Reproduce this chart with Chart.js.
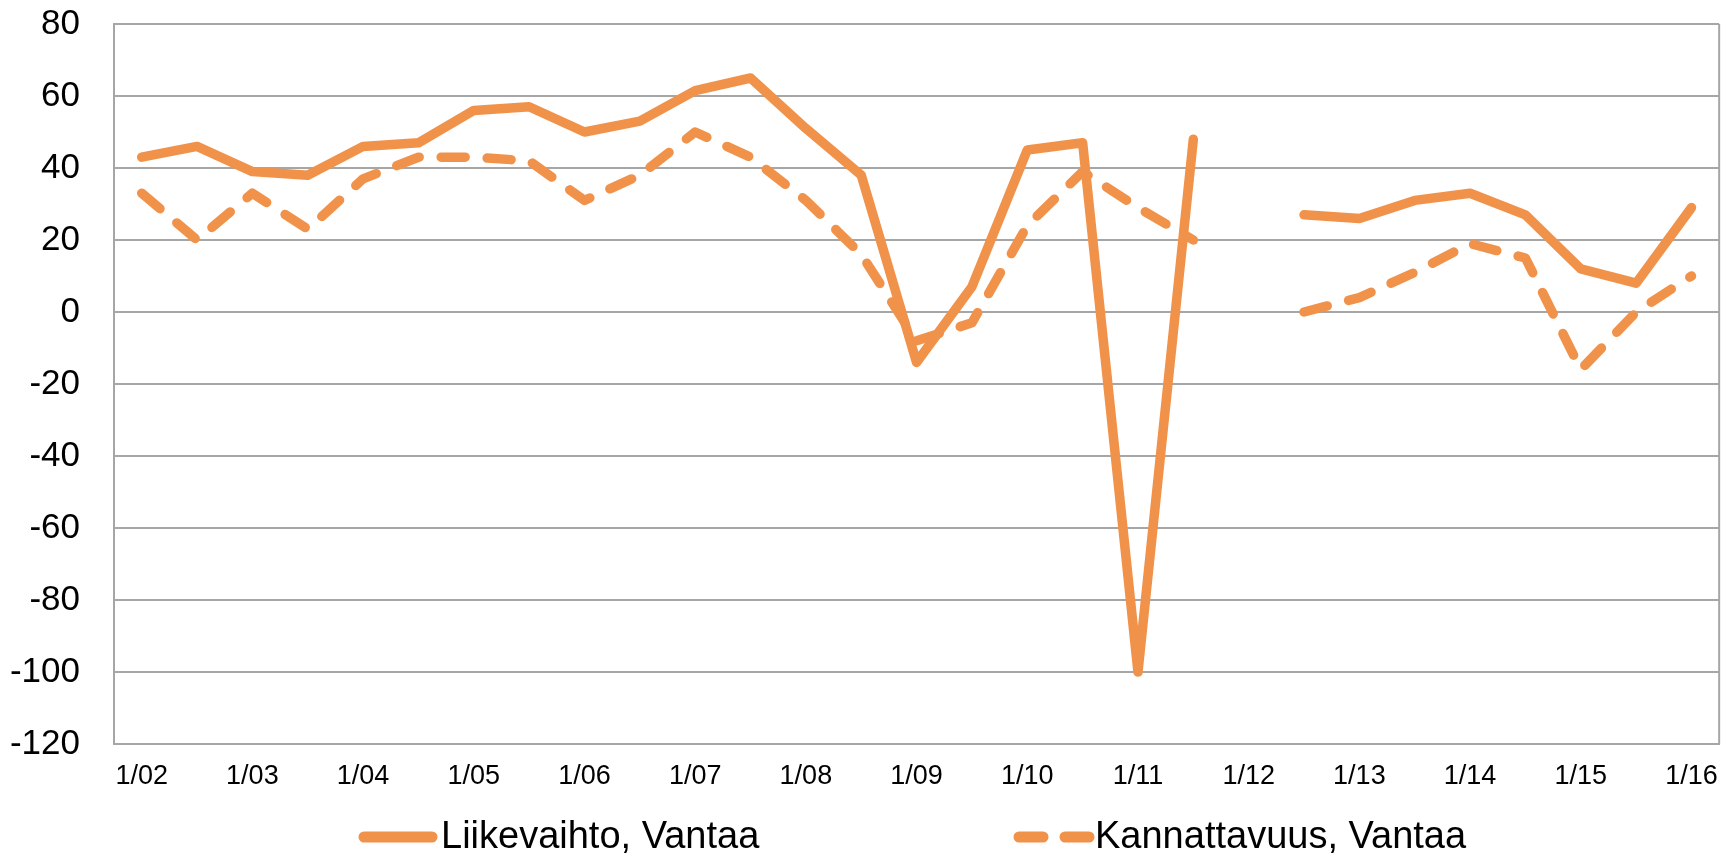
<!DOCTYPE html>
<html>
<head>
<meta charset="utf-8">
<script src="https://cdn.jsdelivr.net/npm/chart.js@4/dist/chart.umd.min.js"></script>
<style>
html,body{margin:0;padding:0;background:#fff;}
#wrap{width:1734px;height:853px;}
</style>
</head>
<body>
<div id="wrap"><canvas id="c" width="1734" height="853"></canvas></div>
<script>
const categories = ['1/02','7/02','1/03','7/03','1/04','7/04','1/05','7/05','1/06','7/06','1/07','7/07','1/08','7/08','1/09','7/09','1/10','7/10','1/11','7/11','1/12','7/12','1/13','7/13','1/14','7/14','1/15','7/15','1/16'];
const liikevaihto = [43,46,39,38,46,47,56,57,50,53,61.5,65,51,38,-14,7,45,47,-100,48,null,27,26,31,33,27,12,8,29];
const kannattavuus = [33,20,33,23,37,43,43,42,31,38,50,43,31,16,-8,-3,24,39,29,20,null,0,4,11,19,15,-16,0,10];
const seriesNames = ['Liikevaihto, Vantaa','Kannattavuus, Vantaa'];
const yTicks = [80,60,40,20,0,-20,-40,-60,-80,-100,-120];

const ORANGE = '#F1924B';
const GRID = '#A6A6A6';
const FONT = '"Liberation Sans", Arial, sans-serif';

const frame = {
  id:'frame',
  beforeDatasetsDraw(chart){
    const a = chart.chartArea, ctx = chart.ctx;
    ctx.save();
    ctx.strokeStyle = GRID; ctx.lineWidth = 2;
    ctx.beginPath();
    ctx.moveTo(a.right, a.top); ctx.lineTo(a.right, a.bottom);
    ctx.stroke();
    ctx.restore();
  },
  afterDraw(chart){
    const ctx = chart.ctx;
    const y = 837;
    ctx.save();
    ctx.strokeStyle = ORANGE; ctx.lineWidth = 11; ctx.lineCap = 'round';
    ctx.beginPath(); ctx.moveTo(364, y); ctx.lineTo(432, y); ctx.stroke();
    ctx.setLineDash([24,22]);
    ctx.beginPath(); ctx.moveTo(1019, y); ctx.lineTo(1089, y); ctx.stroke();
    ctx.setLineDash([]);
    ctx.fillStyle = '#000';
    ctx.font = '38px ' + FONT;
    ctx.textBaseline = 'middle'; ctx.textAlign = 'left';
    ctx.fillText(chart.data.datasets[0].label, 441, y+1);
    ctx.fillText(chart.data.datasets[1].label, 1095, y+1);
    ctx.restore();
  }
};

new Chart(document.getElementById('c'), {
  type:'line',
  data:{
    labels: categories,
    datasets:[
      {label: seriesNames[0], data: liikevaihto, borderColor: ORANGE, backgroundColor: ORANGE,
       borderWidth: 9.5, pointRadius: 0, tension: 0, borderJoinStyle:'round', borderCapStyle:'round', spanGaps:false},
      {label: seriesNames[1], data: kannattavuus, borderColor: ORANGE, backgroundColor: ORANGE,
       borderWidth: 9.5, pointRadius: 0, tension: 0, borderDash:[24,22], borderJoinStyle:'round', borderCapStyle:'round', spanGaps:false}
    ]
  },
  options:{
    responsive:false,
    animation:false,
    devicePixelRatio:1,
    layout:{padding:{left:0,right:14,top:24,bottom:0}},
    plugins:{legend:{display:false}, tooltip:{enabled:false}},
    scales:{
      x:{
        offset:true,
        grid:{display:false, drawTicks:false},
        border:{display:true, color:GRID, width:2},
        ticks:{autoSkip:false, maxRotation:0, minRotation:0, padding:16, color:'#000',
          font:{family:FONT, size:27},
          callback:function(v,i){ const l = categories[i]; return l.startsWith('1/') ? l : ''; }},
        afterFit(s){ s.height = 853 - 744; }
      },
      y:{
        min:-120, max:80,
        afterBuildTicks(s){ s.ticks = yTicks.map(v=>({value:v})); },
        grid:{color:GRID, lineWidth:2, drawTicks:true, tickLength:34, tickColor:'rgba(0,0,0,0)'},
        border:{display:true, color:GRID, width:2},
        ticks:{padding:0, color:'#000', font:{family:FONT, size:35}},
        afterFit(s){ s.width = 114; }
      }
    }
  },
  plugins:[frame]
});
</script>
</body>
</html>
